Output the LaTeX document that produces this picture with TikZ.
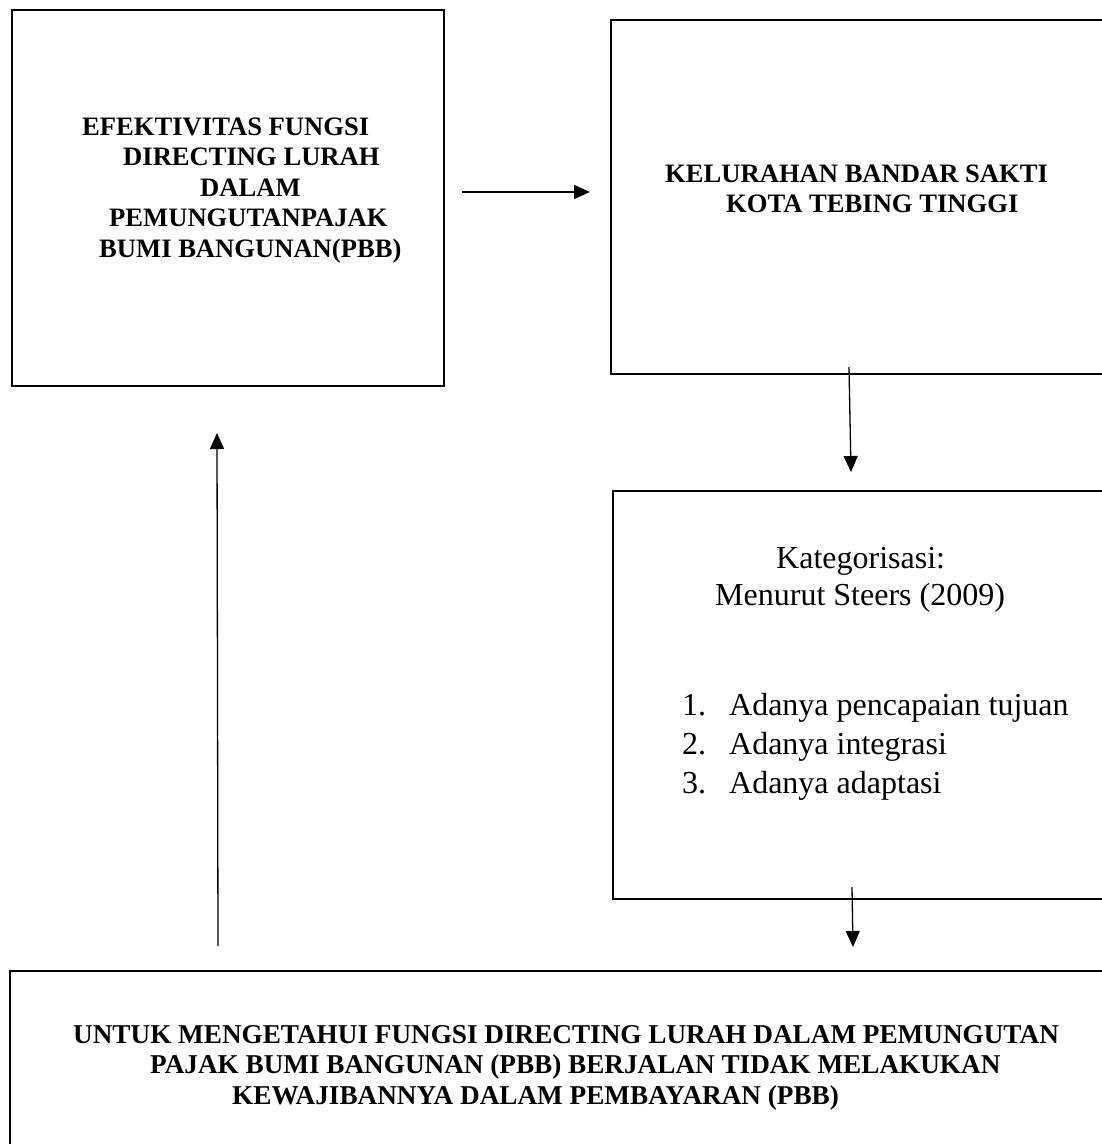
\documentclass[tikz,border=0pt]{standalone}
\usepackage{fontspec}
\setmainfont{Liberation Serif}
\usetikzlibrary{arrows.meta}
\begin{document}
\begin{tikzpicture}[x=1pt,y=-1pt,
  box/.style={draw, line width=1.6pt, inner sep=0pt, anchor=north west},
  btxt/.style={inner sep=0pt, anchor=base west, font=\fontsize{26.6}{30.7}\selectfont\bfseries},
  btxtb/.style={inner sep=0pt, anchor=base west, font=\fontsize{27.2}{30.7}\selectfont\bfseries},
  rtxt/.style={inner sep=0pt, anchor=base west, font=\fontsize{32}{37}\selectfont},
  arr/.style={line width=1.3pt, -{Triangle[length=16pt,width=14pt]}}]
\clip (0,0) rectangle (1102,1144);
\fill[white] (0,0) rectangle (1102,1144);
% boxes
\node (b1) [box, minimum width=432pt, minimum height=376pt] at (11,9) {};
\node (b2) [box, minimum width=505pt, minimum height=354pt] at (610,19) {};
\node (b3) [box, minimum width=503pt, minimum height=408pt] at (612,490) {};
\node (b4) [box, minimum width=1106pt, minimum height=190pt] at (9,970) {};
% box 1 text
\node (t11) [btxt] at (82,135) {EFEKTIVITAS FUNGSI};
\node (t12) [btxt] at (123,165.5) {DIRECTING LURAH};
\node (t13) [btxt] at (200,196) {DALAM};
\node (t14) [btxt] at (109,226.5) {PEMUNGUTANPAJAK};
\node (t15) [btxt] at (99,257) {BUMI BANGUNAN(PBB)};
% box 2 text
\node (t21) [btxt] at (665,182) {KELURAHAN BANDAR SAKTI};
\node (t22) [btxt] at (726,212.5) {KOTA TEBING TINGGI};
% box 3 text
\node (t31) [rtxt] at (776,568) {Kategorisasi:};
\node (t32) [rtxt] at (715,605) {Menurut Steers (2009)};
\node (t33) [rtxt] at (682,715) {\makebox[47pt][l]{1.}Adanya pencapaian tujuan};
\node (t34) [rtxt] at (682,754) {\makebox[47pt][l]{2.}Adanya integrasi};
\node (t35) [rtxt] at (682,793) {\makebox[47pt][l]{3.}Adanya adaptasi};
% box 4 text
\node (t41) [btxtb] at (73,1043) {UNTUK MENGETAHUI FUNGSI DIRECTING LURAH DALAM PEMUNGUTAN};
\node (t42) [btxtb] at (150,1073.5) {PAJAK BUMI BANGUNAN (PBB) BERJALAN TIDAK MELAKUKAN};
\node (t43) [btxtb] at (232,1104) {KEWAJIBANNYA DALAM PEMBAYARAN (PBB)};
% connector ends
\coordinate (a1s) at (462,192);
\coordinate (a1e) at (590,192);
\coordinate (a2s) at (849,367);
\coordinate (a2e) at (851,472);
\coordinate (a3s) at (852,887);
\coordinate (a3e) at (853,947);
\coordinate (a4s) at (218,946);
\coordinate (a4e) at (217,433);
\draw[arr] (a1s) -- (a1e);
\draw[arr] (a2s) -- (a2e);
\draw[arr] (a3s) -- (a3e);
\draw[arr] (a4s) -- (a4e);
\end{tikzpicture}
\end{document}
